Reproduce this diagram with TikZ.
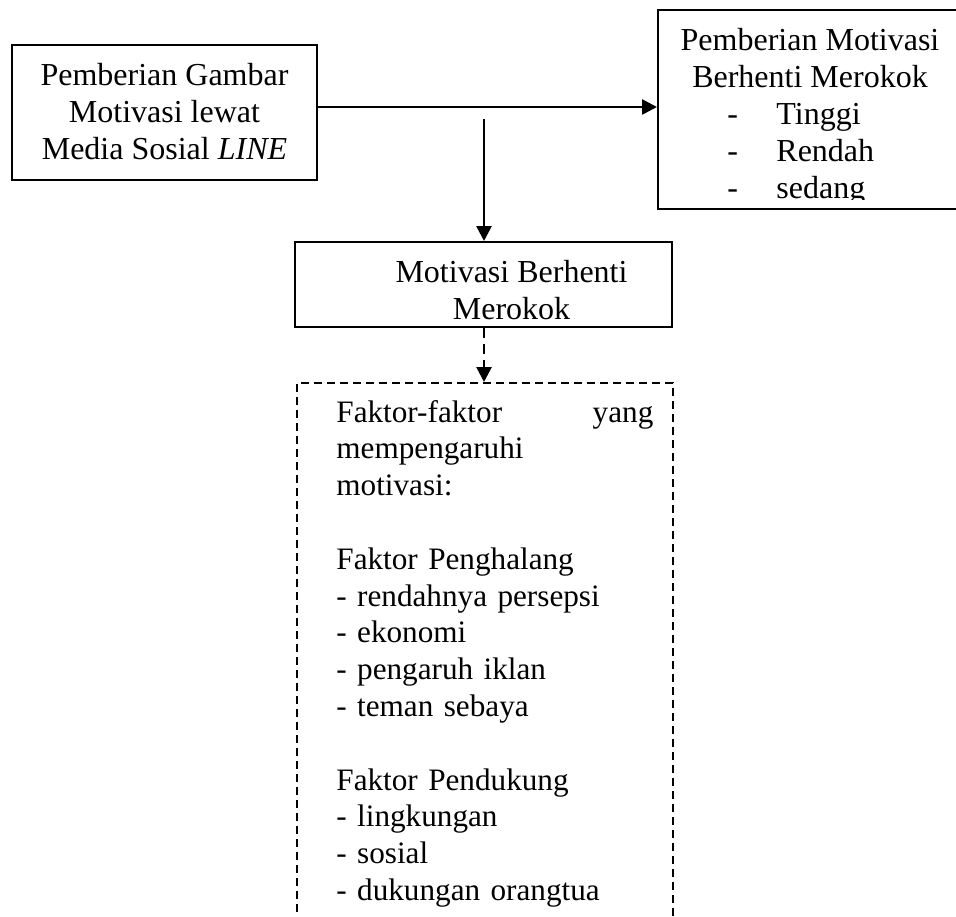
\documentclass[tikz,border=0pt]{standalone}
\usepackage{fontspec}
\setmainfont{Liberation Serif}
\usetikzlibrary{arrows.meta}
\newcommand{\lvl}[1]{\makebox[24.5pt][l]{-}#1}
\tikzset{
    base/.style={
        draw=black,
        line width=1pt,
    },
    % Solid box
    box/.style={
        base,
        rectangle,
        inner sep=0pt,
    },
    % Dashed box
    dbox/.style={
        box,
        dash pattern=on 4pt off 2.5pt,
    },
    % Text inside the boxes
    txt/.style={
        font=\fontsize{16}{18.4}\selectfont,
        inner sep=0pt,
    },
    % Text of the list of factors
    ftxt/.style={
        txt,
        font=\fontsize{15.6}{18.4}\selectfont,
    },
    % Connectors
    link/.style={
        line width=1.3pt,
        -{Triangle[length=7.5pt,width=7.5pt]},
    },
    dlink/.style={
        link,
        dash pattern=on 5pt off 3pt,
    },
}
\begin{document}
\begin{tikzpicture}[x=0.5pt,y=-0.5pt]
% Frame
\useasboundingbox (0,0) rectangle (956,916);
% Pemberian Gambar (anchored on the last line)
\node[box, minimum width=152.5pt, minimum height=67.5pt] (media) at (164.5,112.5) {};
\node[txt, align=center, anchor=base] (media-txt) at (164.5,159)
    {Pemberian Gambar\\Motivasi lewat\\Media Sosial \textit{LINE}};
% Pemberian Motivasi
\node[box, minimum width=152pt, minimum height=99.5pt] (level) at (810,109.5) {};
\begin{scope}
    \clip (level.north west) rectangle ([yshift=5.5pt]level.south east);
    \node[txt, align=center, anchor=base] (level-txt) at (810,87)
        {Pemberian Motivasi\\Berhenti Merokok};
    \node[txt, align=left, anchor=base west] (level-list) at (727,198)
        {\lvl{Tinggi}\\\lvl{Rendah}\\\lvl{sedang}};
\end{scope}
% Motivasi Berhenti Merokok
\node[box, minimum width=188.5pt, minimum height=42.5pt] (motiv) at (483.5,284.5) {};
\begin{scope}
    \clip (motiv.north west) rectangle ([yshift=3.5pt]motiv.south east);
    \node[txt, align=center, anchor=base] (motiv-txt) at (511.5,319)
        {Motivasi Berhenti\\Merokok};
\end{scope}
% Faktor-faktor
\node[dbox, minimum width=188pt, minimum height=273.5pt] (factors) at (485,656.5) {};
\node[ftxt, text width=158.5pt, align=left, anchor=base west] (factors-txt) at (336,422)
    {Faktor-faktor\hfill yang\\
     mempengaruhi\\
     motivasi:\\[18.4pt]
     Faktor Penghalang\\
     - rendahnya persepsi\\
     - ekonomi\\
     - pengaruh iklan\\
     - teman sebaya\\[18.4pt]
     Faktor Pendukung\\
     - lingkungan\\
     - sosial\\
     - dukungan orangtua};
% Connectors
\coordinate (split) at (484,107);
\coordinate (drop) at (484,119);
\draw[link] (media.east |- split) -- (level.west |- split);
\draw[link] (drop) -- (motiv.north -| drop);
\draw[dlink] (motiv.south -| drop) -- (factors.north -| drop);
\end{tikzpicture}
\end{document}
